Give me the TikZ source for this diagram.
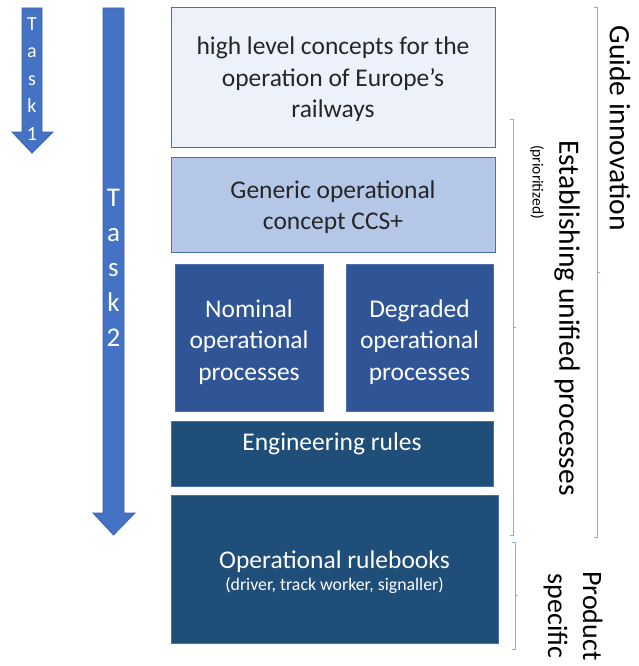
\documentclass[tikz,border=0pt]{standalone}
\usepackage{fontspec}
\setmainfont{Carlito}
\usetikzlibrary{positioning}

\definecolor{taskblue}{HTML}{4472C4}
\definecolor{taskedge}{HTML}{3A63AD}
\definecolor{palebox}{HTML}{EDF1F9}
\definecolor{lightbox}{HTML}{B4C7E7}
\definecolor{midbox}{HTML}{2F5597}
\definecolor{darkbox}{HTML}{1F4E79}
\definecolor{boxedge}{HTML}{4A6FB0}
\definecolor{bracket}{HTML}{8FAADC}
\definecolor{ink}{HTML}{262626}

\begin{document}
\begin{tikzpicture}[x=1pt, y=-1pt,
    layer/.style={draw=boxedge, line width=1pt, inner sep=0pt},
    pale/.style={layer, fill=palebox},
    light/.style={layer, fill=lightbox},
    mid/.style={layer, fill=midbox},
    dark/.style={layer, fill=darkbox},
    boxtext/.style={align=center, inner sep=0pt, font=\fontsize{25.5}{31.5}\selectfont},
    tasktext/.style={text=white, align=center, inner sep=0pt},
    side/.style={rotate=-90, align=center, inner sep=0pt, text=black},
    brace/.style={draw=bracket, line width=0.8pt}]
        \useasboundingbox (0,0) rectangle (638,666);
        % task arrows
        \draw[fill=taskblue, draw=taskedge, line width=0.8pt] (22,8) -- (42,8) -- (42,132) -- (53,132) -- (32,153) -- (12,132) -- (22,132) -- cycle;
        \draw[fill=taskblue, draw=taskedge, line width=0.8pt] (103,8) -- (124,8) -- (124,513) -- (135,513) -- (113.5,535) -- (93,513) -- (103,513) -- cycle;
        \node[tasktext, font=\fontsize{20}{27.5}\selectfont] (t1) at (32,79) {T\\a\\s\\k\\1};
        \node[tasktext, font=\fontsize{27}{35}\selectfont] (t2) at (113.5,268) {T\\a\\s\\k\\2};
        % layers
        \node[pale, minimum width=324pt, minimum height=139pt] (hl) at (333,77.5) {};
        \node[light, minimum width=324pt, minimum height=95pt] (gen) at (333,205) {};
        \node[mid, minimum width=148pt, minimum height=147pt] (nom) at (249,338) {};
        \node[mid, minimum width=147pt, minimum height=147pt] (deg) at (419.5,338) {};
        \node[dark, minimum width=322pt, minimum height=65pt] (eng) at (332,453.5) {};
        \node[dark, minimum width=327pt, minimum height=148pt] (rb) at (334.5,569) {};
        \node[boxtext, text=ink] (hltext) at ([yshift=-2pt]hl.center) {high level concepts for the\\operation of Europe’s\\railways};
        \node[boxtext, text=ink] (gentext) at ([yshift=-2pt]gen.center) {Generic operational\\concept CCS+};
        \node[boxtext, text=white] (nomtext) at ([yshift=-4pt]nom.center) {Nominal\\operational\\processes};
        \node[boxtext, text=white] (degtext) at ([yshift=-4pt]deg.center) {Degraded\\operational\\processes};
        \node[boxtext, text=white] (engtext) at ([yshift=-23pt]eng.north) {Engineering rules};
        \node[boxtext, text=white] (rbtext) at ([yshift=-3pt]rb.center) {Operational rulebooks\\[-9pt]{\fontsize{17.8}{20}\selectfont (driver, track worker, signaller)}};
        % brackets
        \draw[brace] (594,7) -- (597,7) -- (597,537) -- (594,537) (597,272) -- (600,272);
        \draw[brace] (510,119) -- (513,119) -- (513,535) -- (510,535) (513,327) -- (516,327);
        \draw[brace] (512,542) -- (515,542) -- (515,649) -- (512,649) (515,595) -- (518,595);
        \node[side, font=\fontsize{29.5}{35}\selectfont] (guide) at (620,128) {Guide innovation};
        \node[side, font=\fontsize{29.5}{35}\selectfont] (est) at (567,318) {Establishing unified processes};
        \node[side, font=\fontsize{15.5}{18}\selectfont] (prio) at (537,182) {(prioritized)};
        \node[side, font=\fontsize{28}{35}\selectfont] (prod) at (573,616) {Product\\specific};
\end{tikzpicture}
\end{document}
